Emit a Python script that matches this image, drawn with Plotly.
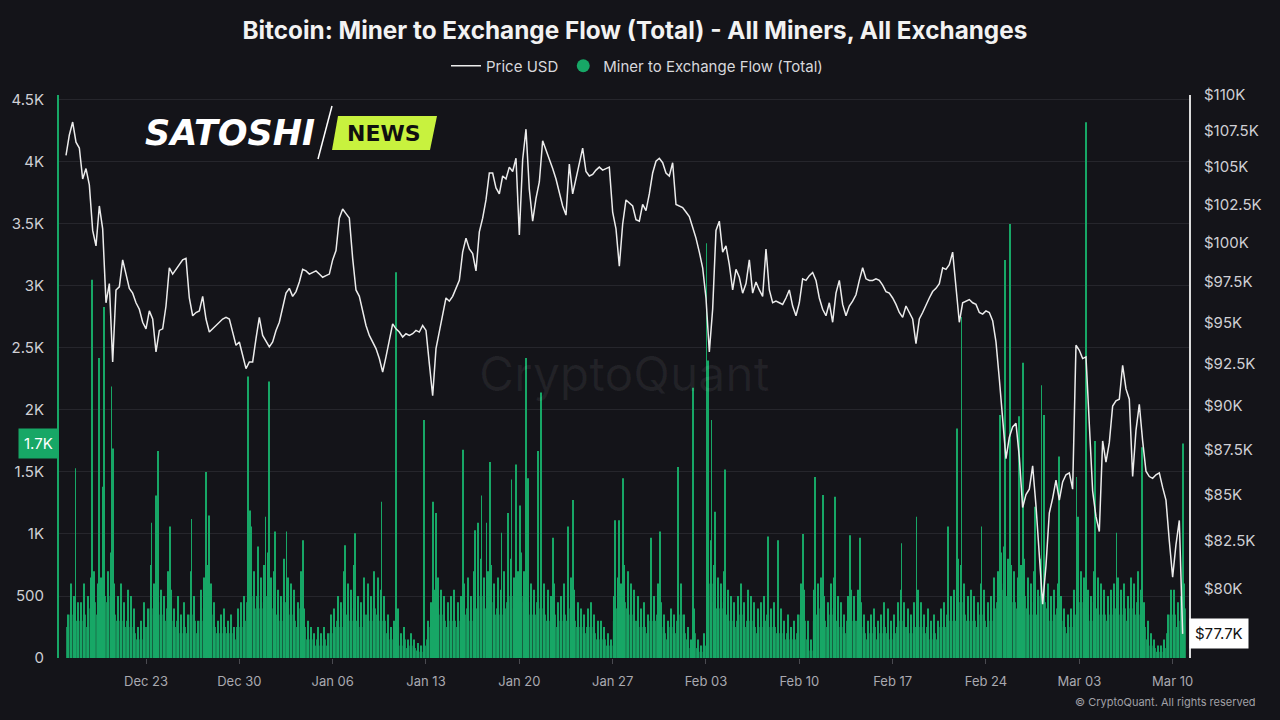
import math
import pandas as pd
import plotly.graph_objects as go

# ---------------- data ----------------
series_start = "2024-12-17 00:00"   # 6-hourly samples (00, 06, 12, 18 UTC)

# BTC price (thousand USD), 4 samples per day, Dec 17 2024 -> Mar 10 2025
price_k = [
    105.8, 107.2, 108.1, 106.7,  # Dec 17
    106.3, 104.2, 104.9, 103.8,  # Dec 18
    100.8, 99.8, 102.4, 100.9,   # Dec 19
    96.2, 97.4, 92.6, 97.0,      # Dec 20
    97.2, 98.9, 98.0, 97.1,      # Dec 21
    96.8, 96.2, 95.8, 95.0,      # Dec 22
    94.6, 95.7, 95.2, 93.2,      # Dec 23
    94.5, 94.6, 96.0, 98.4,      # Dec 24
    98.0, 98.3, 98.6, 98.9,      # Dec 25
    99.0, 96.5, 95.4, 95.6,      # Dec 26
    95.7, 96.6, 95.2, 94.4,      # Dec 27
    94.6, 94.8, 95.0, 95.2,      # Dec 28
    95.3, 95.2, 94.4, 93.6,      # Dec 29
    93.8, 93.0, 92.2, 92.6,      # Dec 30
    92.6, 94.0, 95.3, 94.2,      # Dec 31
    93.8, 93.5, 93.8, 94.5,      # Jan 01
    95.0, 96.0, 96.8, 97.1,      # Jan 02
    96.6, 96.9, 97.5, 98.3,      # Jan 03
    98.2, 98.0, 98.1, 98.2,      # Jan 04
    98.0, 97.8, 97.9, 98.0,      # Jan 05
    98.9, 99.5, 101.6, 102.2,    # Jan 06
    101.9, 101.6, 99.0, 97.0,    # Jan 07
    96.6, 95.7, 94.8, 94.2,      # Jan 08
    93.8, 93.4, 92.8, 92.0,      # Jan 09
    92.9, 94.0, 94.9, 94.6,      # Jan 10
    94.4, 94.1, 94.3, 94.2,      # Jan 11
    94.3, 94.5, 94.4, 94.8,      # Jan 12
    94.5, 92.5, 90.6, 93.4,      # Jan 13
    94.5, 95.6, 96.5, 96.3,      # Jan 14
    96.6, 97.1, 97.6, 99.4,      # Jan 15
    100.3, 99.6, 99.3, 98.2,     # Jan 16
    100.7, 101.6, 102.8, 104.6,  # Jan 17
    104.6, 103.6, 103.2, 104.4,  # Jan 18
    104.2, 105.0, 104.7, 105.6,  # Jan 19
    100.5, 105.5, 107.6, 103.5,  # Jan 20
    101.4, 102.9, 104.0, 106.8,  # Jan 21
    106.2, 105.5, 104.9, 104.2,  # Jan 22
    103.2, 102.4, 101.8, 105.2,  # Jan 23
    103.2, 104.3, 105.2, 106.3,  # Jan 24
    104.7, 104.4, 104.5, 104.8,  # Jan 25
    105.0, 104.8, 104.9, 105.0,  # Jan 26
    102.0, 100.9, 98.5, 101.2,   # Jan 27
    102.8, 102.6, 102.4, 101.5,  # Jan 28
    101.4, 102.5, 102.1, 103.2,  # Jan 29
    104.6, 105.4, 105.6, 105.3,  # Jan 30
    104.6, 104.4, 105.3, 102.5,  # Jan 31
    102.4, 102.3, 102.0, 101.7,  # Feb 01
    101.0, 100.3, 99.4, 98.4,    # Feb 02
    96.5, 93.2, 95.8, 100.8,     # Feb 03
    101.4, 99.4, 99.8, 98.6,     # Feb 04
    97.0, 98.3, 97.8, 96.8,      # Feb 05
    97.4, 98.9, 96.8, 97.5,      # Feb 06
    97.0, 96.6, 99.6, 97.0,      # Feb 07
    96.2, 96.3, 96.2, 96.1,      # Feb 08
    96.5, 97.0, 96.0, 95.4,      # Feb 09
    96.2, 97.7, 97.6, 97.9,      # Feb 10
    98.1, 97.6, 96.5, 95.8,      # Feb 11
    95.4, 96.2, 95.0, 96.8,      # Feb 12
    97.6, 96.1, 95.4, 96.0,      # Feb 13
    96.3, 96.7, 97.6, 98.4,      # Feb 14
    97.7, 97.6, 97.6, 97.7,      # Feb 15
    97.6, 97.3, 96.9, 96.8,      # Feb 16
    96.5, 96.1, 95.6, 95.3,      # Feb 17
    96.0, 95.6, 95.2, 93.7,      # Feb 18
    95.2, 95.6, 96.1, 96.5,      # Feb 19
    96.9, 97.1, 97.4, 98.4,      # Feb 20
    98.3, 98.6, 99.4, 97.0,      # Feb 21
    95.0, 96.2, 96.3, 96.4,      # Feb 22
    96.2, 96.1, 95.6, 95.5,      # Feb 23
    95.7, 95.6, 95.1, 93.8,      # Feb 24
    91.6, 89.3, 87.0, 88.2,      # Feb 25
    88.8, 89.0, 87.1, 84.3,      # Feb 26
    85.0, 85.3, 86.6, 84.4,      # Feb 27
    81.8, 79.2, 81.2, 84.0,      # Feb 28
    84.8, 85.8, 84.7, 85.7,      # Mar 01
    86.1, 86.2, 85.3, 93.6,      # Mar 02
    93.3, 92.8, 92.9, 88.5,      # Mar 03
    85.2, 83.8, 83.0, 88.0,      # Mar 04
    86.8, 87.9, 90.0, 90.3,      # Mar 05
    90.4, 92.4, 91.0, 90.4,      # Mar 06
    86.0, 88.6, 90.1, 88.0,      # Mar 07
    86.3, 86.0, 85.9, 86.1,      # Mar 08
    86.2, 85.4, 84.7, 82.5,      # Mar 09
    80.6, 82.3, 83.6, 77.7,      # Mar 10
]

# Miner -> exchange flow (BTC): typical hourly level within each 6-hour slot
flow_typical = [
    250, 350, 300, 300,  # Dec 17
    300, 350, 250, 400,  # Dec 18
    450, 350, 400, 500,  # Dec 19
    450, 500, 350, 300,  # Dec 20
    300, 250, 300, 250,  # Dec 21
    200, 150, 150, 250,  # Dec 22
    250, 400, 350, 450,  # Dec 23
    350, 300, 400, 300,  # Dec 24
    250, 300, 200, 250,  # Dec 25
    200, 350, 300, 200,  # Dec 26
    300, 400, 450, 350,  # Dec 27
    250, 200, 200, 250,  # Dec 28
    200, 200, 150, 250,  # Dec 29
    250, 300, 450, 500,  # Dec 30
    400, 500, 400, 450,  # Dec 31
    500, 400, 400, 350,  # Jan 01
    300, 450, 400, 350,  # Jan 02
    300, 250, 400, 250,  # Jan 03
    150, 150, 100, 150,  # Jan 04
    100, 150, 100, 200,  # Jan 05
    250, 300, 250, 400,  # Jan 06
    350, 300, 400, 300,  # Jan 07
    250, 350, 350, 300,  # Jan 08
    400, 350, 300, 300,  # Jan 09
    200, 150, 150, 250,  # Jan 10
    100, 150, 80, 100,   # Jan 11
    80, 60, 50, 100,     # Jan 12
    150, 250, 300, 400,  # Jan 13
    350, 300, 250, 300,  # Jan 14
    300, 250, 300, 350,  # Jan 15
    400, 300, 400, 400,  # Jan 16
    500, 400, 450, 450,  # Jan 17
    350, 400, 350, 400,  # Jan 18
    450, 500, 400, 450,  # Jan 19
    500, 450, 450, 350,  # Jan 20
    350, 450, 400, 350,  # Jan 21
    300, 300, 350, 250,  # Jan 22
    300, 350, 300, 400,  # Jan 23
    300, 250, 250, 200,  # Jan 24
    250, 250, 200, 150,  # Jan 25
    150, 150, 100, 100,  # Jan 26
    300, 400, 350, 450,  # Jan 27
    400, 350, 300, 300,  # Jan 28
    250, 250, 200, 300,  # Jan 29
    300, 350, 250, 200,  # Jan 30
    150, 250, 200, 300,  # Jan 31
    350, 200, 150, 80,   # Feb 01
    200, 80, 50, 100,    # Feb 02
    500, 600, 450, 400,  # Feb 03
    400, 450, 350, 300,  # Feb 04
    250, 300, 350, 250,  # Feb 05
    300, 300, 250, 200,  # Feb 06
    250, 300, 350, 250,  # Feb 07
    250, 200, 200, 150,  # Feb 08
    200, 150, 150, 200,  # Feb 09
    350, 300, 150, 60,   # Feb 10
    300, 350, 400, 300,  # Feb 11
    250, 350, 400, 300,  # Feb 12
    250, 200, 300, 300,  # Feb 13
    300, 300, 250, 200,  # Feb 14
    150, 200, 250, 150,  # Feb 15
    200, 250, 200, 150,  # Feb 16
    200, 250, 300, 250,  # Feb 17
    250, 200, 250, 300,  # Feb 18
    250, 200, 250, 150,  # Feb 19
    200, 150, 250, 250,  # Feb 20
    350, 300, 300, 450,  # Feb 21
    450, 350, 300, 300,  # Feb 22
    300, 250, 350, 300,  # Feb 23
    250, 300, 400, 450,  # Feb 24
    550, 600, 500, 450,  # Feb 25
    450, 400, 450, 500,  # Feb 26
    400, 350, 450, 350,  # Feb 27
    500, 450, 400, 300,  # Feb 28
    350, 400, 300, 250,  # Mar 01
    200, 250, 350, 450,  # Mar 02
    450, 400, 350, 300,  # Mar 03
    450, 400, 350, 350,  # Mar 04
    300, 350, 400, 400,  # Mar 05
    350, 400, 300, 400,  # Mar 06
    350, 450, 350, 250,  # Mar 07
    150, 100, 80, 50,    # Mar 08
    50, 80, 200, 350,    # Mar 09
    350, 250, 300, 400,  # Mar 10
]

# Miner -> exchange flow (BTC): highest ordinary hour within each 6-hour slot
flow_peak = [
    350, 600, 500, 450,  # Dec 17
    450, 600, 500, 650,  # Dec 18
    700, 600, 650, 800,  # Dec 19
    700, 850, 600, 500,  # Dec 20
    600, 450, 550, 500,  # Dec 21
    400, 250, 300, 450,  # Dec 22
    400, 750, 600, 800,  # Dec 23
    550, 500, 700, 550,  # Dec 24
    400, 500, 350, 450,  # Dec 25
    350, 700, 500, 300,  # Dec 26
    550, 650, 750, 600,  # Dec 27
    450, 300, 350, 400,  # Dec 28
    300, 350, 250, 400,  # Dec 29
    450, 500, 750, 800,  # Dec 30
    700, 900, 650, 750,  # Dec 31
    850, 650, 700, 550,  # Jan 01
    500, 800, 650, 600,  # Jan 02
    550, 450, 700, 400,  # Jan 03
    300, 250, 200, 250,  # Jan 04
    200, 250, 200, 350,  # Jan 05
    400, 500, 450, 700,  # Jan 06
    600, 550, 750, 500,  # Jan 07
    450, 650, 600, 500,  # Jan 08
    700, 650, 550, 500,  # Jan 09
    350, 250, 300, 400,  # Jan 10
    200, 250, 150, 200,  # Jan 11
    150, 120, 100, 200,  # Jan 12
    300, 450, 550, 650,  # Jan 13
    550, 500, 450, 500,  # Jan 14
    550, 450, 500, 600,  # Jan 15
    650, 500, 700, 650,  # Jan 16
    800, 650, 700, 750,  # Jan 17
    600, 650, 550, 700,  # Jan 18
    750, 800, 650, 700,  # Jan 19
    850, 700, 750, 600,  # Jan 20
    550, 700, 650, 600,  # Jan 21
    550, 500, 600, 450,  # Jan 22
    500, 600, 550, 650,  # Jan 23
    550, 450, 400, 350,  # Jan 24
    400, 450, 350, 300,  # Jan 25
    300, 250, 200, 150,  # Jan 26
    500, 650, 600, 750,  # Jan 27
    700, 600, 550, 500,  # Jan 28
    400, 450, 350, 550,  # Jan 29
    500, 600, 450, 350,  # Jan 30
    300, 400, 350, 500,  # Jan 31
    600, 350, 250, 150,  # Feb 01
    400, 150, 100, 200,  # Feb 02
    800, 950, 750, 650,  # Feb 03
    600, 700, 550, 500,  # Feb 04
    450, 500, 600, 450,  # Feb 05
    550, 500, 450, 400,  # Feb 06
    450, 500, 600, 400,  # Feb 07
    450, 350, 400, 300,  # Feb 08
    350, 250, 300, 350,  # Feb 09
    600, 550, 300, 150,  # Feb 10
    550, 600, 650, 500,  # Feb 11
    450, 600, 650, 500,  # Feb 12
    450, 350, 500, 550,  # Feb 13
    500, 550, 450, 350,  # Feb 14
    300, 350, 400, 300,  # Feb 15
    350, 450, 400, 300,  # Feb 16
    350, 450, 550, 450,  # Feb 17
    400, 350, 450, 550,  # Feb 18
    450, 350, 400, 300,  # Feb 19
    350, 300, 400, 450,  # Feb 20
    600, 500, 550, 800,  # Feb 21
    750, 600, 500, 550,  # Feb 22
    500, 450, 600, 550,  # Feb 23
    450, 500, 650, 700,  # Feb 24
    850, 900, 800, 750,  # Feb 25
    700, 650, 750, 800,  # Feb 26
    650, 600, 700, 550,  # Feb 27
    800, 750, 600, 500,  # Feb 28
    550, 600, 500, 400,  # Mar 01
    350, 400, 550, 750,  # Mar 02
    700, 650, 550, 500,  # Mar 03
    700, 650, 600, 550,  # Mar 04
    500, 550, 600, 650,  # Mar 05
    550, 600, 500, 650,  # Mar 06
    600, 700, 550, 450,  # Mar 07
    300, 200, 150, 100,  # Mar 08
    100, 150, 350, 550,  # Mar 09
    550, 450, 500, 600,  # Mar 10
]

# Individual hourly spikes of the flow (BTC)
spike_times = [
    "2024-12-17 17:00", "2024-12-18 23:00", "2024-12-19 12:00", "2024-12-19 18:00",
    "2024-12-19 20:00", "2024-12-20 10:00", "2024-12-20 13:00", "2024-12-23 10:00",
    "2024-12-23 18:00", "2024-12-23 22:00", "2024-12-24 19:00", "2024-12-26 10:00",
    "2024-12-27 12:00", "2024-12-27 18:00", "2024-12-30 16:00", "2024-12-30 19:00",
    "2024-12-30 22:00", "2024-12-31 23:00", "2025-01-01 06:00", "2025-01-01 16:00",
    "2025-01-02 13:00", "2025-01-03 19:00", "2025-01-06 22:00", "2025-01-07 16:00",
    "2025-01-09 16:00", "2025-01-10 18:00", "2025-01-12 20:00", "2025-01-13 13:00",
    "2025-01-13 18:00", "2025-01-15 19:00", "2025-01-16 16:00", "2025-01-16 22:00",
    "2025-01-17 04:00", "2025-01-17 13:00", "2025-01-17 19:00", "2025-01-18 16:00",
    "2025-01-19 04:00", "2025-01-19 10:00", "2025-01-19 18:00", "2025-01-20 01:00",
    "2025-01-20 12:00", "2025-01-20 16:00", "2025-01-21 10:00", "2025-01-21 15:00",
    "2025-01-22 13:00", "2025-01-23 16:00", "2025-01-24 00:00", "2025-01-27 04:00",
    "2025-01-27 12:00", "2025-01-27 19:00", "2025-01-29 21:00", "2025-01-30 13:00",
    "2025-01-31 22:00", "2025-02-02 01:00", "2025-02-03 01:00", "2025-02-03 04:00",
    "2025-02-03 10:00", "2025-02-03 16:00", "2025-02-04 10:00", "2025-02-07 16:00",
    "2025-02-08 09:00", "2025-02-10 06:00", "2025-02-11 04:00", "2025-02-11 19:00",
    "2025-02-12 16:00", "2025-02-13 19:00", "2025-02-14 13:00", "2025-02-17 16:00",
    "2025-02-18 19:00", "2025-02-21 03:00", "2025-02-21 20:00", "2025-02-22 04:00",
    "2025-02-23 16:00", "2025-02-25 01:00", "2025-02-25 11:00", "2025-02-25 19:00",
    "2025-02-26 12:00", "2025-02-26 19:00", "2025-02-27 16:00", "2025-02-28 04:00",
    "2025-02-28 09:00", "2025-03-01 12:00", "2025-03-02 19:00", "2025-03-02 22:00",
    "2025-03-03 12:00", "2025-03-04 04:00", "2025-03-05 19:00", "2025-03-07 17:00",
    "2025-03-10 19:00",
]
spike_values = [
    1530, 3050, 2420, 1380,
    2830, 2190, 1690, 1090,
    1310, 1670, 1060, 1120,
    1500, 1150, 2270, 1190,
    1060, 1140, 2230, 1020,
    1020, 950, 910, 1006,
    1260, 3110, 1920, 1260,
    1170, 1680, 1030, 1090,
    1310, 1090, 1580, 1010,
    1170, 1440, 1560, 1230,
    2420, 1450, 1670, 2140,
    970, 1060, 1275, 1110,
    1110, 1450, 970, 1020,
    1540, 2180, 3345, 2400,
    1920, 1180, 1520, 980,
    950, 1000, 1460, 1315,
    1300, 990, 970, 925,
    1140, 1060, 1850, 2750,
    1060, 1960, 3210, 3500,
    1950, 2380, 1220, 2200,
    1960, 1625, 1460, 1140,
    4320, 1750, 1010, 1700,
    1730,
]

flow_ticks = [0, 500, 1000, 1500, 2000, 2500, 3000, 3500, 4000, 4500]
price_ticks = [80000, 82500, 85000, 87500, 90000, 92500, 95000,
               97500, 100000, 102500, 105000, 107500, 110000]
week_ticks = ["2024-12-23", "2024-12-30", "2025-01-06", "2025-01-13", "2025-01-20",
              "2025-01-27", "2025-02-03", "2025-02-10", "2025-02-17", "2025-02-24",
              "2025-03-03", "2025-03-10"]

# ---------------- styling ----------------
BG = "#141419"
GREEN = "#17a766"
GREEN_FILL = "#1bb36d"
GRID = "#26262c"
TXT = "#cfcfd4"
FONT = "Inter"

W, H = 1280, 720
L, R, T, B = 59, 91, 95, 62          # plot area: x 59..1189, y 95..658


def px_x(px):
    return (px - L) / (W - L - R)


def px_y(py):
    return (H - B - py) / (H - T - B)


slots = pd.date_range(series_start, periods=len(price_k), freq="6h")
slot_mid = slots + pd.Timedelta(hours=3)
price = [p * 1000 for p in price_k]
spike_x = pd.to_datetime(spike_times)

hour_ms = 3600 * 1000
last_flow = spike_values[-1]   # latest hourly reading (Mar 10, 19:00)


def k_label(v):
    if v == 0:
        return "0"
    if v < 1000:
        return str(v)
    return f"{v / 1000:g}K"


fig = go.Figure()

fig.add_trace(go.Bar(
    x=slot_mid, y=flow_typical, width=6 * hour_ms * 0.86,
    marker=dict(color=GREEN_FILL, line=dict(width=0)),
    name="Miner to Exchange Flow (Total)", showlegend=False,
))
fig.add_trace(go.Bar(
    x=slot_mid, y=flow_peak, width=1.9 * hour_ms,
    marker=dict(color=GREEN, line=dict(width=0)),
    name="Miner to Exchange Flow (Total)", showlegend=False,
))
fig.add_trace(go.Bar(
    x=spike_x, y=spike_values, width=1.6 * hour_ms,
    marker=dict(color=GREEN, line=dict(width=0)),
    name="Miner to Exchange Flow (Total)", showlegend=False,
))
fig.add_trace(go.Scatter(
    x=slots, y=price, mode="lines", yaxis="y2",
    line=dict(color="#ececec", width=1.5),
    name="Price USD",
))
# legend entry for the flow series (circle symbol like the original)
fig.add_trace(go.Scatter(
    x=[None], y=[None], mode="markers",
    marker=dict(color=GREEN, size=13, symbol="circle"),
    name="Miner to Exchange Flow (Total)",
))

x0 = pd.Timestamp("2024-12-23") - pd.Timedelta(days=(146 - L) / 13.333)
x1 = pd.Timestamp("2024-12-23") + pd.Timedelta(days=(W - R - 146) / 13.333)

fig.update_layout(
    width=W, height=H,
    paper_bgcolor=BG, plot_bgcolor=BG,
    margin=dict(l=L, r=R, t=T, b=B),
    font=dict(family=FONT, color=TXT, size=14),
    barmode="overlay",
    title=dict(
        text="<b>Bitcoin: Miner to Exchange Flow (Total) - All Miners, All Exchanges</b>",
        font=dict(size=24.3, color="#f2f2f2", family=FONT),
        x=0.496, xref="container", xanchor="center",
        y=1 - 30 / H, yref="container", yanchor="middle",
    ),
    legend=dict(
        orientation="h", x=px_x(637), xanchor="center",
        y=px_y(66), yanchor="middle",
        font=dict(size=15, color="#d8d8dc"),
        bgcolor="rgba(0,0,0,0)", itemwidth=30, traceorder="normal",
    ),
    xaxis=dict(
        type="date", range=[x0, x1],
        tickvals=week_ticks, tickformat="%b %d",
        ticks="outside", ticklen=5, tickcolor="#4a4a50",
        tickfont=dict(size=13, color="#a9a9b0"),
        showgrid=False, zeroline=False, showline=False,
        ticklabelstandoff=6,
    ),
    yaxis=dict(
        range=[0, 4540], tickvals=flow_ticks,
        ticktext=[k_label(v) for v in flow_ticks],
        tickfont=dict(size=15, color=TXT),
        showgrid=True, gridcolor=GRID, gridwidth=1,
        zeroline=False, showline=True, linecolor=GREEN, linewidth=2,
        ticks="", ticklabelstandoff=10,
    ),
    yaxis2=dict(
        type="log", overlaying="y", side="right",
        range=[math.log10(76500), math.log10(110000)],
        tickvals=price_ticks,
        ticktext=[f"${v / 1000:g}K" for v in price_ticks],
        tickfont=dict(size=15, color=TXT),
        showgrid=False, zeroline=False,
        showline=True, linecolor="#dcdcdc", linewidth=2,
        ticks="", ticklabelstandoff=10,
    ),
)

annotations = [
    # current-value markers
    dict(xref="paper", x=0, xanchor="right", yref="y", y=last_flow, yanchor="middle",
         text=f"{last_flow / 1000:.1f}K", showarrow=False,
         font=dict(size=15, color="#ffffff"), bgcolor=GREEN, borderpad=5),
    dict(xref="paper", x=1, xanchor="left", yref="y2", y=math.log10(price[-1]),
         yanchor="middle", text=f"${price[-1] / 1000:.1f}K", showarrow=False,
         font=dict(size=15, color="#111111"), bgcolor="#ffffff", borderpad=5),
    # watermark
    dict(xref="paper", yref="paper", x=px_x(624), y=px_y(373), text="CryptoQuant",
         showarrow=False, font=dict(size=48, color="rgba(255,255,255,0.06)", family=FONT)),
    # copyright
    dict(xref="paper", yref="paper", x=px_x(1258), xanchor="right", y=px_y(702),
         yanchor="middle", text="© CryptoQuant. All rights reserved", showarrow=False,
         font=dict(size=11, color="#a0a0a6", family=FONT)),
    # Satoshi News logo
    dict(xref="paper", yref="paper", x=px_x(143), xanchor="left", y=px_y(133),
         yanchor="middle", text="<b><i>SATOSHI</i></b>", showarrow=False,
         font=dict(size=35, color="#ffffff", family="DejaVu Sans")),
    dict(xref="paper", yref="paper", x=px_x(384), xanchor="center", y=px_y(133),
         yanchor="middle", text="<b>NEWS</b>", showarrow=False,
         font=dict(size=22, color="#101010", family="DejaVu Sans")),
]
fig.update_layout(annotations=annotations)

fig.update_layout(shapes=[
    dict(type="path", xref="paper", yref="paper", layer="below",
         path=(f"M {px_x(338)},{px_y(116)} L {px_x(437)},{px_y(116)} "
               f"L {px_x(430)},{px_y(150)} L {px_x(332)},{px_y(150)} Z"),
         fillcolor="#c8f23e", line=dict(width=0)),
    dict(type="line", xref="paper", yref="paper",
         x0=px_x(318), y0=px_y(159), x1=px_x(332), y1=px_y(106),
         line=dict(color="#ffffff", width=1.5)),
])

fig.write_html("out.html")
